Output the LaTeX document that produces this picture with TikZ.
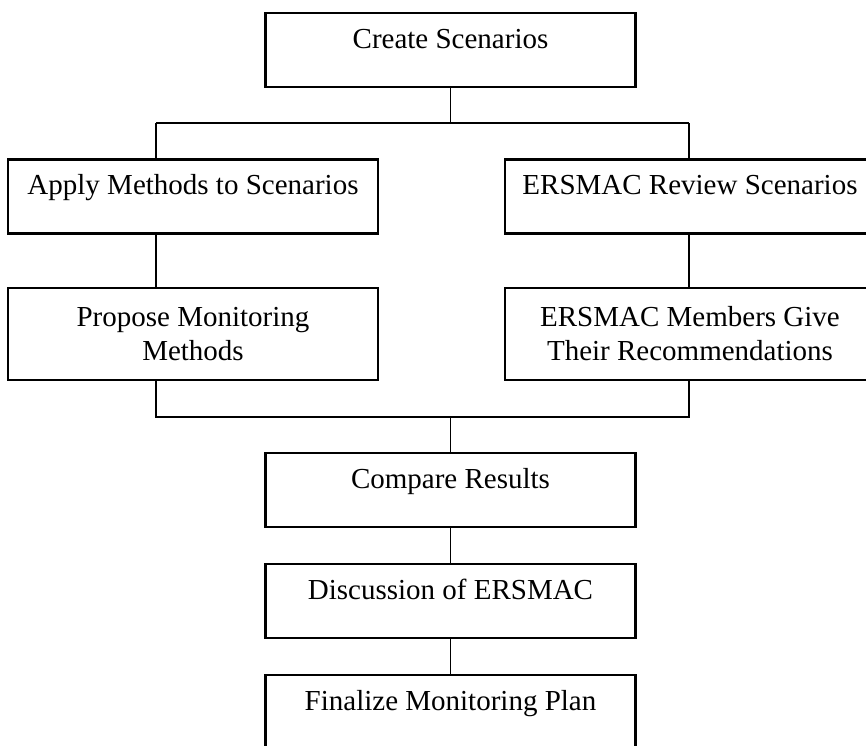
\documentclass[tikz,border=0pt]{standalone}
\usepackage{fontspec}
\setmainfont{Liberation Serif}
\usetikzlibrary{calc}
\tikzset{
    stage/.style={
        draw=black, line width=1.4pt, rectangle, minimum width=185pt,
        inner xsep=4pt, inner ysep=7.5pt, text height=10pt, text depth=12pt,
        font=\fontsize{14.5}{17}\selectfont
    },
    stage two/.style={
        draw=black, line width=1.4pt, rectangle, minimum width=185pt,
        minimum height=46pt, align=center,
        font=\fontsize{14.5}{17}\selectfont
    },
    link/.style={draw=black, line width=0.7pt}
}

\begin{document}
\begin{tikzpicture}[x=0.5pt, y=-0.5pt]

    \clip (0,0) rectangle (866,745);

    \node [stage] (create) at (450.5,50) {Create Scenarios};

    \node [stage] (apply) at (193,196.5) {Apply Methods to Scenarios};
    \node [stage] (review) at (690,196.5) {ERSMAC Review Scenarios};

    \node [stage two] (propose) at (193,334) {Propose Monitoring\\Methods};
    \node [stage two] (members) at (690,334) {ERSMAC Members Give\\Their Recommendations};

    \node [stage] (compare) at (450.5,490) {Compare Results};
    \node [stage] (discuss) at (450.5,601) {Discussion of ERSMAC};
    \node [stage] (final) at (450.5,712) {Finalize Monitoring Plan};

    % Puntos de bifurcación
    \coordinate (splitL) at (156,123);
    \coordinate (splitR) at (689,123);
    \coordinate (joinL) at (156,417);
    \coordinate (joinR) at (689,417);

    % Bifurcación
    \draw [link] (create.south) -- (create.south |- splitL);
    \draw [link] (splitL) -- (splitR);
    \draw [link] (splitL) -- (splitL |- apply.north);
    \draw [link] (splitR) -- (splitR |- review.north);

    % Ramas
    \draw [link] (apply.south -| splitL) -- (propose.north -| splitL);
    \draw [link] (review.south -| splitR) -- (members.north -| splitR);

    % Unión
    \draw [link] (propose.south -| joinL) -- (joinL) -- (joinR) -- (members.south -| joinR);
    \draw [link] (compare.north |- joinL) -- (compare.north);

    \draw [link] (compare) -- (discuss);
    \draw [link] (discuss) -- (final);

\end{tikzpicture}
\end{document}
